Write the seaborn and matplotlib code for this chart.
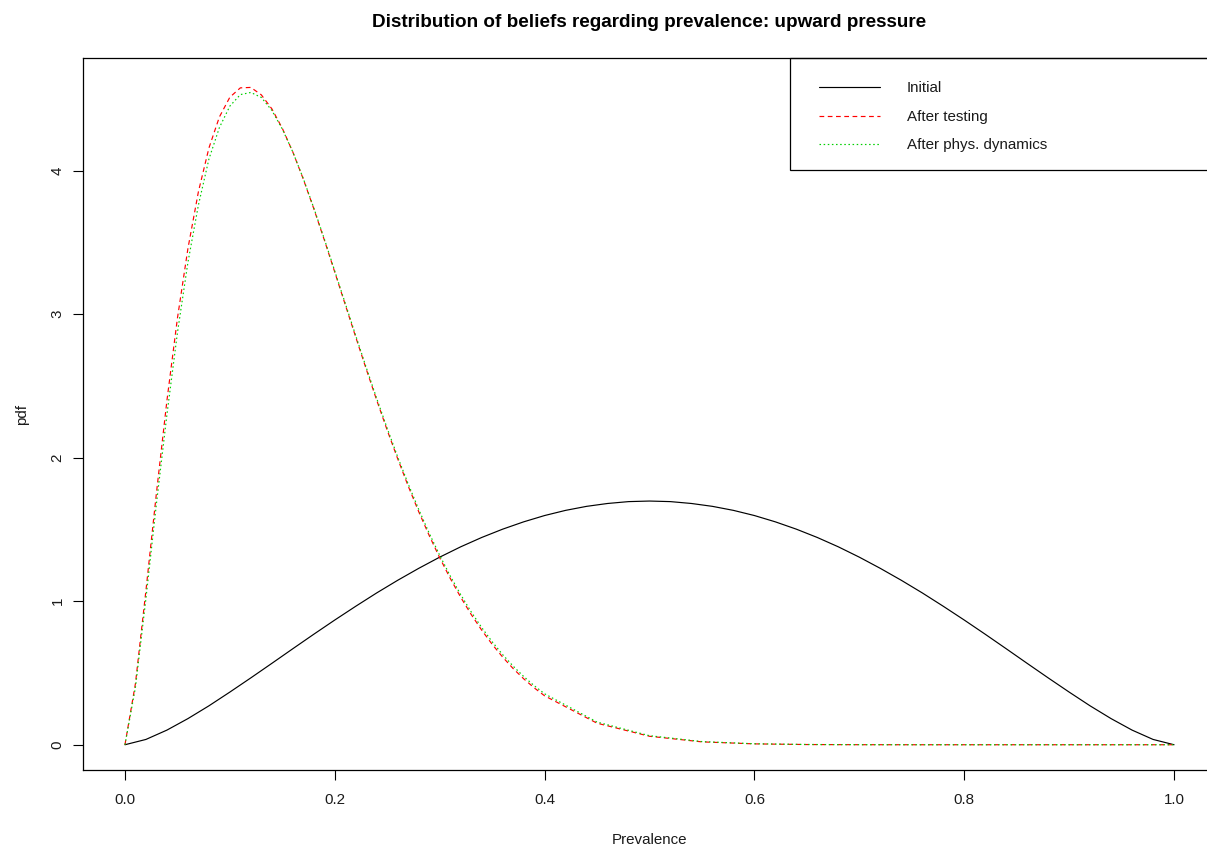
import matplotlib
matplotlib.use("Agg")
import matplotlib.pyplot as plt
import seaborn as sns
from matplotlib.patches import Rectangle

# ---- data ----
x_initial = [0.00, 0.02, 0.04, 0.06, 0.08, 0.10, 0.12, 0.14, 0.16, 0.18,
             0.20, 0.22, 0.24, 0.26, 0.28, 0.30, 0.32, 0.34, 0.36, 0.38,
             0.40, 0.42, 0.44, 0.46, 0.48, 0.50, 0.52, 0.54, 0.56, 0.58,
             0.60, 0.62, 0.64, 0.66, 0.68, 0.70, 0.72, 0.74, 0.76, 0.78,
             0.80, 0.82, 0.84, 0.86, 0.88, 0.90, 0.92, 0.94, 0.96, 0.98, 1.00]
pdf_initial = [0.000, 0.037, 0.102, 0.182, 0.271, 0.367, 0.466, 0.567, 0.669, 0.770,
               0.869, 0.965, 1.058, 1.146, 1.229, 1.307, 1.379, 1.444, 1.502, 1.553,
               1.597, 1.633, 1.661, 1.681, 1.694, 1.698, 1.694, 1.681, 1.661, 1.633,
               1.597, 1.553, 1.502, 1.444, 1.379, 1.307, 1.229, 1.146, 1.058, 0.965,
               0.869, 0.770, 0.669, 0.567, 0.466, 0.367, 0.271, 0.182, 0.102, 0.037, 0.000]

x_post = [0.00, 0.01, 0.02, 0.03, 0.04, 0.05, 0.06, 0.07, 0.08, 0.09,
          0.10, 0.11, 0.12, 0.13, 0.14, 0.15, 0.16, 0.17, 0.18, 0.19,
          0.20, 0.21, 0.22, 0.23, 0.24, 0.25, 0.26, 0.27, 0.28, 0.29,
          0.30, 0.31, 0.32, 0.33, 0.34, 0.35, 0.36, 0.37, 0.38, 0.39,
          0.40, 0.45, 0.50, 0.55, 0.60, 0.65, 0.70, 0.75, 0.80, 0.85,
          0.90, 0.95, 1.00]
pdf_after_testing = [0.000, 0.427, 1.075, 1.754, 2.398, 2.971, 3.457, 3.853, 4.157, 4.374,
                     4.512, 4.577, 4.580, 4.528, 4.431, 4.295, 4.130, 3.941, 3.735, 3.518,
                     3.293, 3.066, 2.840, 2.617, 2.400, 2.191, 1.992, 1.802, 1.624, 1.458,
                     1.303, 1.160, 1.028, 0.908, 0.799, 0.700, 0.611, 0.531, 0.460, 0.397,
                     0.341, 0.150, 0.059, 0.020, 0.006, 0.0014, 0.0003, 0.000, 0.000, 0.000,
                     0.000, 0.000, 0.000]
pdf_after_phys = [0.000, 0.400, 1.020, 1.680, 2.300, 2.870, 3.360, 3.760, 4.080, 4.300,
                  4.450, 4.530, 4.545, 4.510, 4.420, 4.290, 4.130, 3.945, 3.740, 3.525,
                  3.300, 3.075, 2.850, 2.628, 2.412, 2.204, 2.005, 1.817, 1.640, 1.474,
                  1.320, 1.177, 1.046, 0.926, 0.817, 0.718, 0.628, 0.548, 0.476, 0.412,
                  0.355, 0.158, 0.063, 0.022, 0.0068, 0.0017, 0.0004, 0.000, 0.000, 0.000,
                  0.000, 0.000, 0.000]

x_ticks = [0.0, 0.2, 0.4, 0.6, 0.8, 1.0]
x_tick_labels = ["0.0", "0.2", "0.4", "0.6", "0.8", "1.0"]
y_ticks = [0, 1, 2, 3, 4]
y_tick_labels = ["0", "1", "2", "3", "4"]
legend_labels = ["Initial", "After testing", "After phys. dynamics"]

title = "Distribution of beliefs regarding prevalence: upward pressure"
xlabel = "Prevalence"
ylabel = "pdf"

# ---- style ----
sns.set_style("white")
plt.rcParams["font.family"] = ["Liberation Sans", "DejaVu Sans"]

W, H = 1207, 846
fig = plt.figure(figsize=(W / 100, H / 100), dpi=100)
ax = fig.add_axes([83 / W, 76 / H, 1133 / W, 712 / H])

lw = 0.85
sns.lineplot(x=x_initial, y=pdf_initial, ax=ax, color="black", linewidth=lw,
             label=legend_labels[0], legend=False)
sns.lineplot(x=x_post, y=pdf_after_testing, ax=ax, color="#FF0000", linewidth=lw,
             linestyle=(0, (4, 3)), label=legend_labels[1], legend=False)
sns.lineplot(x=x_post, y=pdf_after_phys, ax=ax, color="#00D000", linewidth=lw,
             linestyle=(0, (1.3, 2.2)), label=legend_labels[2], legend=False)

ax.set_xlim(-0.04, 1.04)
ax.set_ylim(-0.176, 4.785)
ax.set_xticks(x_ticks)
ax.set_xticklabels(x_tick_labels)
ax.set_yticks(y_ticks)
ax.set_yticklabels(y_tick_labels, rotation=90, va="center")

fs = 10.9
txt_col = "#1a1a1a"
ax.tick_params(axis="both", which="major", direction="out", length=7.2, width=0.8,
               color="black", labelsize=fs, labelcolor=txt_col, bottom=True, left=True)
ax.tick_params(axis="x", pad=9.2)
ax.tick_params(axis="y", pad=6.0)
for sp in ax.spines.values():
    sp.set_visible(True)
    sp.set_color("black")
    sp.set_linewidth(0.9)
    sp.set_zorder(6)
ax.grid(False)

ax.set_xlabel(xlabel, fontsize=fs, labelpad=18.8, color=txt_col)
ax.set_ylabel(ylabel, fontsize=fs, labelpad=15.6, color=txt_col)
ax.set_title(title, fontsize=13.6, fontweight="bold", pad=22.5, color="black")

# legend frame (box attached to the top-right of the plot region)
y0 = (770 - 170) / 712
frame = Rectangle((0.624, y0), 0.5, 1.0 - y0, transform=ax.transAxes,
                  fill=True, facecolor="white", edgecolor="black", linewidth=0.9,
                  clip_on=False, zorder=4)
ax.add_patch(frame)
handles, labels = ax.get_legend_handles_labels()
leg = ax.legend(handles, labels, loc="upper left",
                bbox_to_anchor=((819 - 83) / 1133, (770 - 81.5) / 712),
                frameon=False, fontsize=fs, handlelength=4.05, handletextpad=1.75,
                labelspacing=0.95, borderpad=0, borderaxespad=0)
leg.set_zorder(5)
for t in leg.get_texts():
    t.set_color(txt_col)

fig.savefig("out.png", dpi=100, facecolor="white")
